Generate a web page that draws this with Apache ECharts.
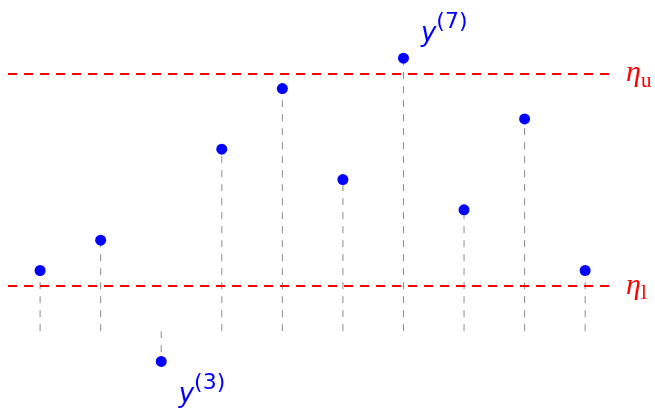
<!DOCTYPE html>
<html><head><meta charset="utf-8">
<script src="https://cdn.jsdelivr.net/npm/echarts@6/dist/echarts.min.js"></script>
<style>html,body{margin:0;padding:0;background:#fff}#c{width:655px;height:410px}</style>
</head><body><div id="c"></div>
<script>
var indices = [1,2,3,4,5,6,7,8,9,10];
var values = [2,3,-1,6,8,5,9,4,7,2];
var upperThreshold = 8.5;
var lowerThreshold = 1.5;
var labeledPoints = [{idx:3, text:'3', pos:'below'}, {idx:7, text:'7', pos:'above'}];

var pts = indices.map(function(x,i){return [x, values[i]];});
var chart = echarts.init(document.getElementById('c'), null, {renderer:'canvas'});

function etaLabel(sub){
  return {show:true, position:'end', distance:16,
    formatter:'{e|η}{s|'+sub+'}',
    rich:{e:{fontFamily:'Liberation Serif',fontStyle:'italic',fontSize:30,color:'#ff0000'},
          s:{fontFamily:'Liberation Serif',fontSize:21,color:'#ff0000',verticalAlign:'bottom',padding:[16,0,0,0]}}};
}

chart.setOption({
  animation:false,
  grid:{left:8,right:45,top:0,bottom:0},
  xAxis:{type:'value',min:0.47,max:10.41,show:false},
  yAxis:{type:'value',min:-2.6,max:10.92,show:false},
  series:[
    {type:'custom', data:pts, z:1,
     renderItem:function(params,api){
       var x=api.value(0), y=api.value(1);
       var p0=api.coord([x,0]), p1=api.coord([x,y]);
       return {type:'line',shape:{x1:p0[0],y1:p0[1],x2:p1[0],y2:p1[1]},
         style:{stroke:'#8c8c8c',lineWidth:1,lineDash:[7,7]}};
     }},
    {type:'scatter', data:pts, symbol:'circle', symbolSize:11, z:3,
     itemStyle:{color:'#0000ff',opacity:1},
     label:{show:true, color:'#0000ff', formatter:function(p){
         for(var k=0;k<labeledPoints.length;k++){ if(labeledPoints[k].idx===p.value[0]) return '{y|y}{s|('+labeledPoints[k].text+')}'; }
         return '';
       },
       position:'right',
       rich:{y:{fontFamily:'DejaVu Sans',fontStyle:'italic',fontSize:26,color:'#0000ff',padding:[10,0,0,0]},
             s:{fontFamily:'DejaVu Sans',fontSize:22,color:'#0000ff',verticalAlign:'top',padding:[0,0,14,0]}}},
     labelLayout:function(p){
       var i=p.dataIndex, x=indices[i];
       for(var k=0;k<labeledPoints.length;k++){
         if(labeledPoints[k].idx===x){
           var r=p.rect;
           if(labeledPoints[k].pos==='above') return {x:r.x+r.width+12, y:r.y-23, align:'left', verticalAlign:'middle'};
           return {x:r.x+r.width+12, y:r.y+r.height+23, align:'left', verticalAlign:'middle'};
         }
       }
       return {};
     },
     markLine:{silent:true, symbol:['none','none'],
       lineStyle:{color:'#ff0000',type:[9,7],width:2},
       data:[{yAxis:upperThreshold,label:etaLabel('u')},{yAxis:lowerThreshold,label:etaLabel('l')}]}
    }
  ]
});
</script></body></html>
